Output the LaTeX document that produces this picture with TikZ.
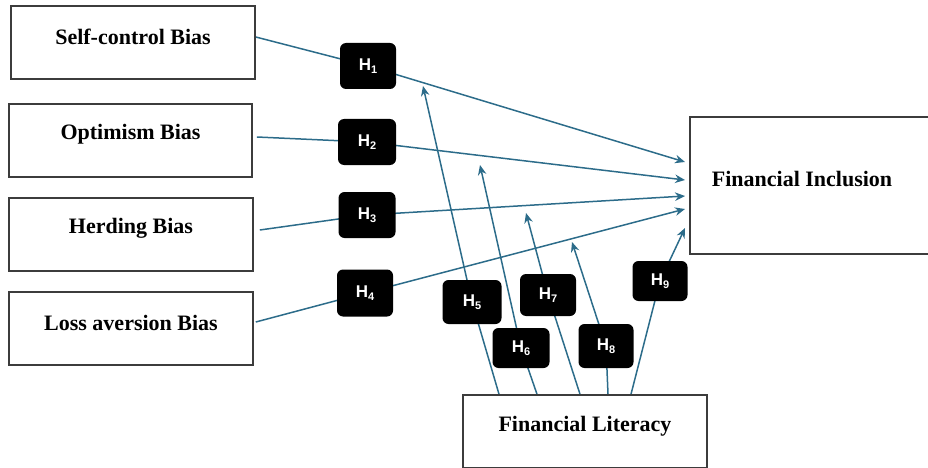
\documentclass[tikz,border=0pt]{standalone}
\usepackage{fontspec}
\setmainfont{Liberation Serif}
\newfontfamily\hfont{Liberation Sans}
\usetikzlibrary{arrows.meta,backgrounds}
\definecolor{conncol}{RGB}{44,108,138}
\definecolor{boxcol}{RGB}{60,60,60}
\tikzset{
  varbox/.style={draw=boxcol, line width=1.6pt, fill=white, rectangle, inner sep=0pt},
  vartext/.style={font=\fontsize{22}{26}\selectfont\bfseries},
  hbox/.style={fill=black, rounded corners=6pt, rectangle, inner sep=0pt,
    text=white, font=\hfont\fontsize{17}{19}\selectfont\bfseries},
  conn/.style={draw=conncol, line width=1.5pt, -{Stealth[length=10pt,width=8.5pt]}}
}
\newcommand{\hlab}[1]{H\raisebox{-3pt}{\fontsize{11}{11}\selectfont #1}}
\begin{document}
\begin{tikzpicture}[x=1pt,y=-1pt]
\useasboundingbox (0,0) rectangle (928,468);
% variable boxes
\node[varbox, minimum width=244pt, minimum height=73pt,
  label={[vartext,yshift=6pt]center:Self-control Bias}] (sc) at (133,42.5) {};
\node[varbox, minimum width=243pt, minimum height=73pt,
  label={[vartext,yshift=6pt]center:Optimism Bias}] (op) at (130.5,140.5) {};
\node[varbox, minimum width=244pt, minimum height=73pt,
  label={[vartext,yshift=6pt]center:Herding Bias}] (hb) at (131,234.5) {};
\node[varbox, minimum width=244pt, minimum height=73pt,
  label={[vartext,yshift=6pt]center:Loss aversion Bias}] (la) at (131,328.5) {};
\node[varbox, minimum width=240pt, minimum height=137pt,
  label={[vartext,yshift=6pt,xshift=-8pt]center:Financial Inclusion}] (fi) at (810,185.5) {};
\node[varbox, minimum width=244pt, minimum height=73pt,
  label={[vartext,yshift=5pt]center:Financial Literacy}] (fl) at (585,431.5) {};
% hypothesis boxes
\node[hbox, minimum width=56pt, minimum height=46pt] (H1) at (368,66) {\hlab{1}};
\node[hbox, minimum width=58pt, minimum height=46pt] (H2) at (367,142) {\hlab{2}};
\node[hbox, minimum width=57pt, minimum height=46pt] (H3) at (367,215) {\hlab{3}};
\node[hbox, minimum width=56pt, minimum height=47pt] (H4) at (365,293) {\hlab{4}};
\node[hbox, minimum width=59pt, minimum height=44pt] (H5) at (472,302) {\hlab{5}};
\node[hbox, minimum width=57pt, minimum height=40pt] (H6) at (521,348) {\hlab{6}};
\node[hbox, minimum width=56pt, minimum height=42pt] (H7) at (548,295) {\hlab{7}};
\node[hbox, minimum width=55pt, minimum height=44pt] (H8) at (606,346) {\hlab{8}};
\node[hbox, minimum width=55pt, minimum height=40pt] (H9) at (660,281) {\hlab{9}};
% arrow targets
\coordinate (t1) at (685,162);
\coordinate (t2) at (685,180);
\coordinate (t3) at (685,196);
\coordinate (t4) at (685,209);
\coordinate (t5) at (423,86);
\coordinate (t6) at (480,165);
\coordinate (t7) at (526,213);
\coordinate (t8) at (572,242);
\coordinate (t9) at (685,228);
\begin{scope}[on background layer]
\draw[conn] ([yshift=5.5pt]sc.east) -- (H1.center) -- (t1);
\draw[conn] ([yshift=3.5pt,xshift=4pt]op.east) -- (H2.center) -- (t2);
\draw[conn] ([yshift=4.5pt,xshift=6pt]hb.east) -- (H3.center) -- (t3);
\draw[conn] ([yshift=6.5pt,xshift=2pt]la.east) -- (H4.center) -- (t4);
\draw[conn] ([xshift=-86pt]fl.north) -- (H5.center) -- (t5);
\draw[conn] ([xshift=-48pt]fl.north) -- (H6.center) -- (t6);
\draw[conn] ([xshift=-5pt]fl.north) -- (H7.center) -- (t7);
\draw[conn] ([xshift=23pt]fl.north) -- (H8.center) -- (t8);
\draw[conn] ([xshift=46pt]fl.north) -- (H9.center) -- (t9);
\end{scope}
\end{tikzpicture}
\end{document}
